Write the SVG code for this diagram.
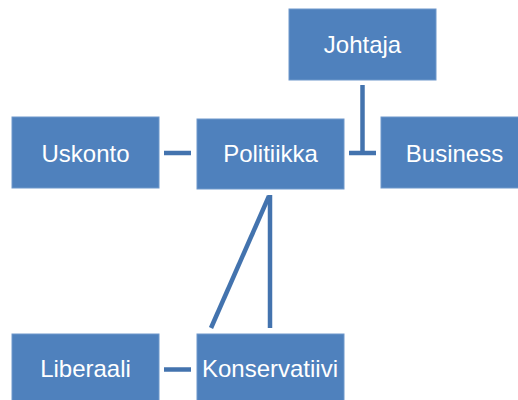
<svg xmlns="http://www.w3.org/2000/svg" width="518" height="400" viewBox="0 0 518 400">
<style>
.box{fill:#4F81BD;stroke:#6F98CB;stroke-width:1}
.lbl{font-family:"Liberation Sans",Arial,sans-serif;font-size:24px;fill:#FFFFFF;text-anchor:middle}
.con{stroke:#4373AE;stroke-width:4.5;fill:none;stroke-linecap:butt}
</style>
<rect width="518" height="400" fill="#FFFFFF"/>
<g id="connectors">
<line class="con" x1="164" y1="153" x2="191" y2="153"/>
<line class="con" x1="349" y1="153" x2="376" y2="153"/>
<line class="con" x1="362.5" y1="85" x2="362.5" y2="153"/>
<line class="con" x1="164" y1="369.5" x2="191" y2="369.5"/>
<line class="con" x1="270" y1="195" x2="270" y2="328"/>
<line class="con" x1="269" y1="196" x2="211" y2="328"/>
</g>
<g id="johtaja"><rect class="box" x="289" y="9" width="147" height="71"/><text class="lbl" x="362.5" y="52.5">Johtaja</text></g>
<g id="uskonto"><rect class="box" x="12" y="117" width="147" height="71"/><text class="lbl" x="85.5" y="162">Uskonto</text></g>
<g id="politiikka"><rect class="box" x="197" y="119" width="147" height="70"/><text class="lbl" x="270.5" y="162">Politiikka</text></g>
<g id="business"><rect class="box" x="381" y="117" width="147" height="71"/><text class="lbl" x="454.5" y="161.5">Business</text></g>
<g id="liberaali"><rect class="box" x="12" y="334" width="147" height="71"/><text class="lbl" x="85.5" y="377">Liberaali</text></g>
<g id="konservatiivi"><rect class="box" x="197" y="334" width="147" height="71"/><text class="lbl" x="270" y="377">Konservatiivi</text></g>
</svg>
